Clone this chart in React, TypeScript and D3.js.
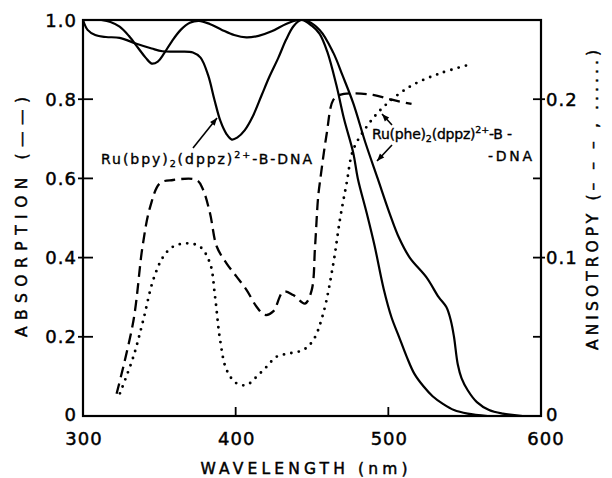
import React from "react";
import * as d3 from "d3";

// ---- data ----
const xTicks = [300, 400, 500, 600];
const absTicks = [0, 0.2, 0.4, 0.6, 0.8, 1.0];
const absTickLabels = ["0", "0.2", "0.4", "0.6", "0.8", "1.0"];
const anisoTicks = [0, 0.05, 0.1, 0.15, 0.2];
const anisoLabelTicks = [0, 0.1, 0.2];
const anisoTickLabels = ["0", "0.1", "0.2"];

// Ru(bpy)2(dppz)2+ - B-DNA absorption (deep dip near 397 nm)
const bpyWl = [300, 303, 308, 315, 324, 335, 345, 352, 362, 372, 377, 382, 386, 390, 394, 397.5, 401, 406, 411, 417, 422, 428, 433, 438, 443, 450, 455, 460, 466, 471, 477, 480, 486, 491, 497, 502, 507, 512, 517, 523, 529, 536, 543, 552, 565];
const bpyAbs = [1.0, 0.975, 0.962, 0.957, 0.955, 0.94, 0.928, 0.921, 0.92, 0.918, 0.905, 0.86, 0.8, 0.745, 0.712, 0.698, 0.703, 0.722, 0.755, 0.81, 0.856, 0.905, 0.95, 0.985, 1.0, 0.985, 0.965, 0.92, 0.835, 0.75, 0.665, 0.6, 0.51, 0.43, 0.32, 0.25, 0.2, 0.15, 0.107, 0.075, 0.05, 0.03, 0.015, 0.006, 0.0];

// Ru(phe)2(dppz)2+ - B-DNA absorption (shoulder near 540 nm)
const pheWl = [312, 318, 324, 330, 336, 341, 345, 349, 353, 358, 364, 370, 376, 383, 391, 399, 407, 415, 424, 433, 441, 445, 455, 464, 470, 477, 485, 493, 501, 507, 514, 525, 533, 538, 541, 543, 545.5, 548, 552, 558, 566, 575, 588];
const pheAbs = [1.0, 0.995, 0.983, 0.96, 0.93, 0.905, 0.89, 0.895, 0.915, 0.945, 0.975, 0.993, 0.998, 0.99, 0.975, 0.962, 0.956, 0.96, 0.972, 0.99, 1.0, 1.0, 0.975, 0.917, 0.86, 0.79, 0.69, 0.6, 0.51, 0.45, 0.4, 0.35, 0.3, 0.275, 0.24, 0.2, 0.13, 0.095, 0.065, 0.035, 0.015, 0.006, 0.0];

// anisotropy, dashed
const dashWl = [322, 333, 339, 344, 350.5, 359, 374.5, 378.6, 383.2, 387.6, 394, 400.6, 407.2, 413.7, 419.2, 424.6, 431.2, 437.7, 445.4, 449.8, 452, 454, 455.5, 459.6, 463.9, 468.3, 477, 490, 503, 515.2];
const dashAniso = [0.014, 0.06, 0.107, 0.132, 0.147, 0.149, 0.149, 0.143, 0.128, 0.107, 0.0964, 0.088, 0.0795, 0.069, 0.0638, 0.066, 0.0785, 0.0764, 0.071, 0.0795, 0.107, 0.138, 0.15, 0.178, 0.1995, 0.2027, 0.2037, 0.2027, 0.1995, 0.197];

// anisotropy, dotted
const dotWl = [324.2, 333, 339.5, 346, 352.6, 359, 368, 376.6, 383.2, 386.5, 389.8, 394.1, 400.6, 407.2, 413.7, 420.3, 426.8, 435.5, 444.3, 450.9, 457.4, 464, 468.3, 472.7, 477, 485.8, 496.7, 514.2, 533.8, 552.4];
const dotAniso = [0.0143, 0.0374, 0.0606, 0.0859, 0.1006, 0.1069, 0.109, 0.1069, 0.0964, 0.0753, 0.048, 0.029, 0.0206, 0.0196, 0.0248, 0.0311, 0.0374, 0.0396, 0.0417, 0.048, 0.0648, 0.0964, 0.124, 0.147, 0.168, 0.1826, 0.195, 0.208, 0.2163, 0.2216];

// ---- layout ----
const W = 612, H = 478;
const L = 83, R = 541, T = 20, B = 416;
const FONT = "'DejaVu Sans', sans-serif";

export default function App() {
  const x = d3.scaleLinear().domain([300, 600]).range([L, R]);
  const yA = d3.scaleLinear().domain([0, 1]).range([B, T]);
  const yR = d3.scaleLinear().domain([0, 0.25]).range([B, T]);
  const curve = d3.curveCatmullRom.alpha(0.5);

  const mk = (wl: number[], v: number[], ys: d3.ScaleLinear<number, number>) =>
    d3.line<[number, number]>().x(d => x(d[0])).y(d => ys(d[1])).curve(curve)(wl.map((w, i) => [w, v[i]] as [number, number])) || "";

  const bpyPath = mk(bpyWl, bpyAbs, yA);
  const phePath = mk(pheWl, pheAbs, yA);
  const dashPath = mk(dashWl, dashAniso, yR);
  const dotPath = mk(dotWl, dotAniso, yR);

  const arrow = (x1: number, y1: number, x2: number, y2: number, key: string) => {
    const a = Math.atan2(y2 - y1, x2 - x1);
    const len = 8, wd = 0.38;
    const p1 = [x2 - len * Math.cos(a - wd), y2 - len * Math.sin(a - wd)];
    const p2 = [x2 - len * Math.cos(a + wd), y2 - len * Math.sin(a + wd)];
    return (
      <g key={key}>
        <line x1={x1} y1={y1} x2={x2} y2={y2} stroke="#000" strokeWidth={1.6} />
        <path d={`M${x2},${y2}L${p1[0]},${p1[1]}L${p2[0]},${p2[1]}Z`} fill="#000" />
      </g>
    );
  };

  const bold = { stroke: "#000", strokeWidth: 0.45 };

  return (
    <svg width={W} height={H} style={{ position: "absolute", left: 0, top: 0, background: "#fff" }} fontFamily={FONT}>
      <defs>
        <clipPath id="plot"><rect x={L} y={T} width={R - L} height={B - T} /></clipPath>
      </defs>
      <rect x={0} y={0} width={W} height={H} fill="#fff" />
      {/* curves */}
      <g clipPath="url(#plot)" fill="none" stroke="#000">
        <path d={bpyPath} strokeWidth={2.2} />
        <path d={phePath} strokeWidth={2.2} />
        <path d={dashPath} strokeWidth={2.3} strokeDasharray="11 6" />
        <path d={dotPath} strokeWidth={2.9} strokeDasharray="0 7.5" strokeLinecap="round" />
      </g>
      {/* frame */}
      <rect x={L} y={T} width={R - L} height={B - T} fill="none" stroke="#000" strokeWidth={2.2} />
      {/* left ticks */}
      {absTicks.slice(1, -1).map(t => (
        <line key={"la" + t} x1={L - 5} x2={L + 10} y1={yA(t)} y2={yA(t)} stroke="#000" strokeWidth={1.8} />
      ))}
      <g {...bold}>
        {absTicks.map((t, i) => (
          <text key={"lt" + t} x={77} y={yA(t) - (i === 0 ? 2 : 0)} textAnchor="end" dominantBaseline="central" fontSize={18} letterSpacing={1}>{absTickLabels[i]}</text>
        ))}
        {anisoLabelTicks.map((t, i) => (
          <text key={"rt" + t} x={546} y={yR(t) - (i === 0 ? 2 : 0)} textAnchor="start" dominantBaseline="central" fontSize={18} letterSpacing={1}>{anisoTickLabels[i]}</text>
        ))}
        {xTicks.map(t => (
          <text key={"bt" + t} x={x(t) + (t === 600 ? 5 : 1)} y={438} textAnchor="middle" dominantBaseline="central" fontSize={18} letterSpacing={1}>{t}</text>
        ))}
      </g>
      {/* right ticks */}
      {anisoTicks.slice(1).map(t => (
        <line key={"ra" + t} x1={R - 8} x2={R + (anisoLabelTicks.includes(t) ? 4 : 0)} y1={yR(t)} y2={yR(t)} stroke="#000" strokeWidth={1.8} />
      ))}
      {/* bottom ticks */}
      {xTicks.slice(1, -1).map(t => (
        <line key={"bx" + t} x1={x(t)} x2={x(t)} y1={B} y2={B - 9} stroke="#000" strokeWidth={1.8} />
      ))}
      {/* axis titles */}
      <g {...bold}>
        <text x={304} y={474} textAnchor="middle" fontSize={15.5} textLength={207} lengthAdjust="spacing">WAVELENGTH (nm)</text>
        <text transform="translate(27,217) rotate(-90)" textAnchor="middle" fontSize={15.5} textLength={240} lengthAdjust="spacing">ABSORPTION (——)</text>
        <text transform="translate(598,200) rotate(-90)" textAnchor="middle" fontSize={15.5} textLength={300} lengthAdjust="spacing">ANISOTROPY (– – – , ......)</text>
      </g>
      {/* annotations */}
      <g {...{ stroke: "#000", strokeWidth: 0.35 }}>
        <text x={101} y={164} fontSize={14} textLength={211} lengthAdjust="spacing">
          Ru(bpy)<tspan fontSize={9.5} dy={3}>2</tspan><tspan dy={-3}>(dppz)</tspan><tspan fontSize={9.5} dy={-6}>2+</tspan><tspan dy={6}>-B-DNA</tspan>
        </text>
        <text x={372} y={139} fontSize={14} textLength={140} lengthAdjust="spacing">
          Ru(phe)<tspan fontSize={9.5} dy={3}>2</tspan><tspan dy={-3}>(dppz)</tspan><tspan fontSize={9.5} dy={-6}>2+</tspan><tspan dy={6}>-B -</tspan>
        </text>
        <text x={488} y={161} fontSize={14} textLength={44} lengthAdjust="spacing">-DNA</text>
      </g>
      {arrow(193, 148, 217, 118, "a1")}
      {arrow(392, 125, 382, 114, "a2")}
      {arrow(392, 145, 377, 161, "a3")}
    </svg>
  );
}
